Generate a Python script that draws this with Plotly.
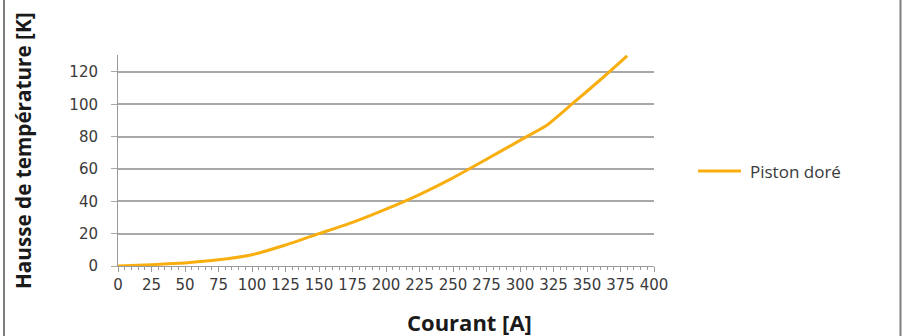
import plotly.graph_objects as go

courant = [0, 25, 50, 75, 100, 125, 150, 175, 200, 225, 250, 275, 300, 320, 340, 360, 380]
hausse = [0, 0.8, 1.9, 3.8, 7, 13, 20, 27, 35.2, 44.2, 54.5, 66, 77.7, 87, 101, 115.2, 130]
series_name = "Piston doré"
x_ticks = list(range(0, 401, 25))
y_ticks = [0, 20, 40, 60, 80, 100, 120]
line_color = "#F9AE0F"

W, H = 906, 336
L, R, T, B = 118, 252, 55, 70
pw, ph = W - L - R, H - T - B

def px(xp):
    return (xp - L) / pw

def py(yp):
    return (H - B - yp) / ph

tick_font = dict(family="DejaVu Sans", size=15, color="#3a3a3a")

fig = go.Figure()
fig.add_trace(go.Scatter(
    x=courant, y=hausse, mode="lines", name=series_name,
    line=dict(color=line_color, width=3, shape="spline", smoothing=0.5), showlegend=False,
))

fig.update_layout(
    width=W, height=H,
    margin=dict(l=L, r=R, t=T, b=B),
    paper_bgcolor="white", plot_bgcolor="white",
    font=dict(family="Open Sans", size=14, color="#3a3a3a"),
    showlegend=False,
    xaxis=dict(range=[0, 400], tickvals=x_ticks, ticktext=[str(v) for v in x_ticks],
               showgrid=False, zeroline=False, showline=True, linecolor="#9a9a9a", linewidth=1,
               ticks="outside", ticklen=5, tickcolor="#9a9a9a",
               minor=dict(dtick=5, ticks="outside", ticklen=3, tickcolor="#9a9a9a", showgrid=False),
               tickfont=tick_font),
    yaxis=dict(range=[0, 130.5], tickvals=y_ticks, ticktext=[str(v) for v in y_ticks],
               showgrid=True, gridcolor="#a8a8a8", gridwidth=1.5, zeroline=False,
               showline=True, linecolor="#9a9a9a", linewidth=1,
               ticks="outside", ticklen=6, tickcolor="#a8a8a8", ticklabelstandoff=10,
               tickfont=tick_font),
    annotations=[
        dict(text="<b>Courant [A]</b>", xref="paper", yref="paper", x=px(469), y=py(322),
             xanchor="center", yanchor="middle", showarrow=False,
             font=dict(family="Open Sans", size=22, color="#1a1a1a")),
        dict(text="<b>Hausse de température [K]</b>", xref="paper", yref="paper", x=px(23), y=py(151),
             xanchor="center", yanchor="middle", showarrow=False, textangle=-90,
             font=dict(family="Open Sans", size=20.7, color="#1a1a1a")),
        dict(text=series_name, xref="paper", yref="paper", x=px(748), y=py(171),
             xanchor="left", yanchor="middle", showarrow=False,
             font=dict(family="Open Sans", size=17, color="#3a3a3a")),
    ],
    shapes=[
        dict(type="line", xref="paper", yref="paper", x0=px(698), x1=px(741), y0=py(171), y1=py(171),
             line=dict(color=line_color, width=3)),
        dict(type="line", xref="paper", yref="paper", x0=px(4), x1=px(4), y0=py(H), y1=py(0),
             line=dict(color="#7f7f7f", width=2)),
        dict(type="line", xref="paper", yref="paper", x0=px(900.5), x1=px(900.5), y0=py(H), y1=py(0),
             line=dict(color="#7f7f7f", width=2)),
    ],
)

fig.write_html("out.html", config={"displayModeBar": False},
               post_script="document.body.style.margin='0';document.body.style.overflow='hidden';")
